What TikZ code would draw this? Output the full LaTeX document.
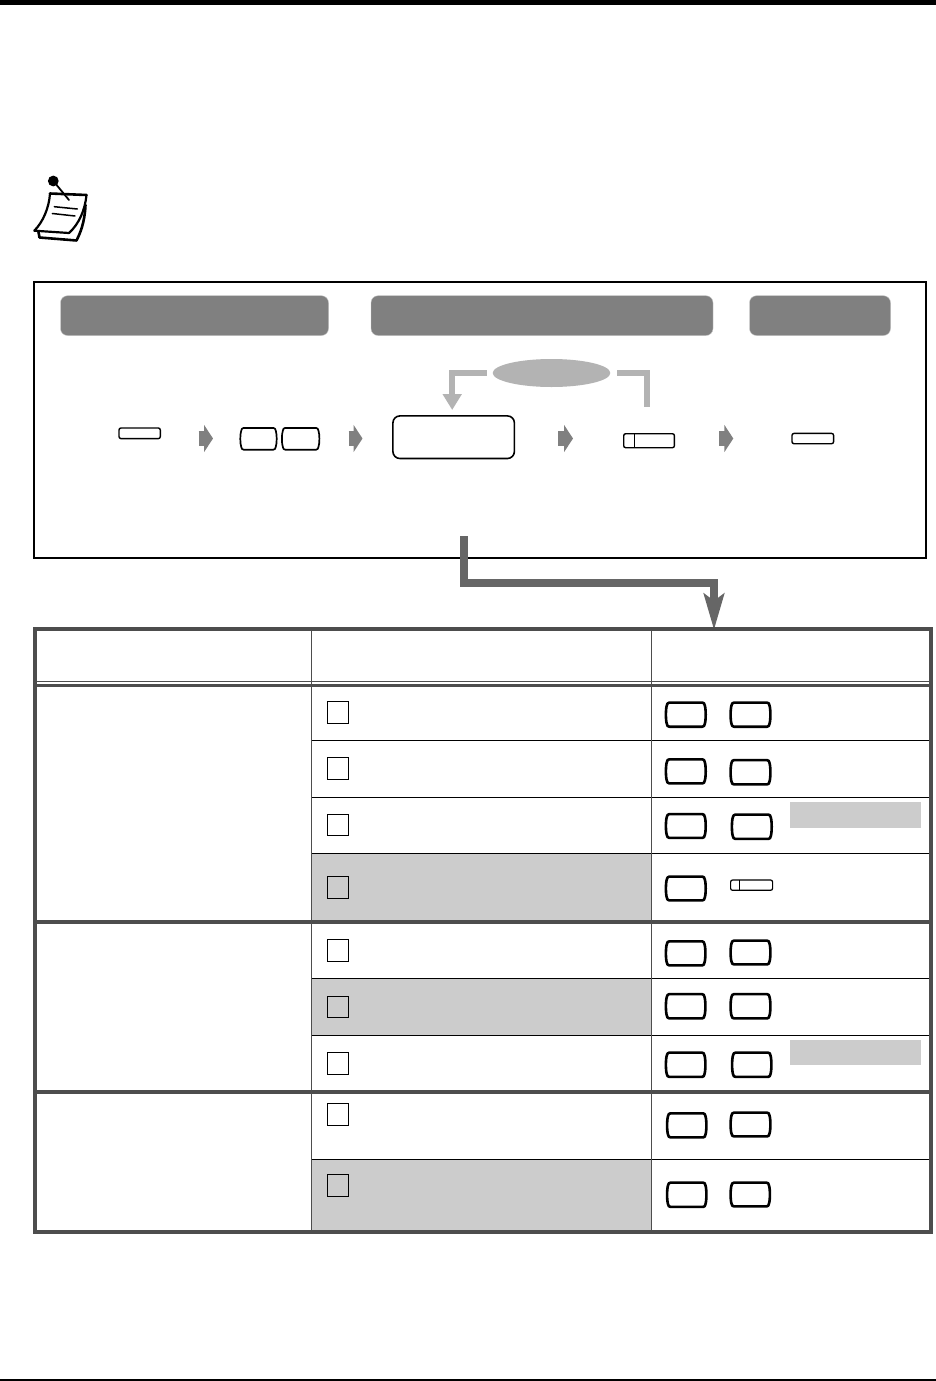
\documentclass[tikz,border=0pt]{standalone}
\usetikzlibrary{arrows.meta,calc,shapes.geometric}
\definecolor{pill}{HTML}{808080}
\definecolor{pilledge}{HTML}{C8C8C8}
\definecolor{loopgray}{HTML}{B3B3B3}
\definecolor{tablegray}{HTML}{4D4D4D}
\definecolor{shade}{HTML}{CCCCCC}
\definecolor{bigarrow}{HTML}{666666}
\tikzset{
  banner/.style={fill=pill,draw=pilledge,line width=.4pt,rounded corners=7pt,outer sep=0pt},
  keyline/.style={draw=black,line width=#1,line join=round},
  keyline/.default=2.6pt,
  slimkey/.style={draw=black,line width=1.4pt,rounded corners=2pt,inner sep=0pt,outer sep=0pt,anchor=north west},
  bigbox/.style={draw=black,line width=1.6pt,rounded corners=7pt,inner sep=0pt,outer sep=0pt,anchor=north west},
  flowarrow/.style={draw=pill,line width=15.3pt,-{Triangle[length=9pt,width=27pt]}},
  looparrow/.style={draw=loopgray,line width=5.8pt,line join=miter},
  deliver/.style={draw=bigarrow,line width=8pt,line join=miter,-{Stealth[length=36pt,width=20pt,inset=7pt]}},
  outerrule/.style={draw=tablegray,line width=4pt},
  thinrule/.style={draw=tablegray,line width=1.3pt},
  rowrule/.style={draw=black,line width=1.2pt},
  checkbox/.style={draw=black,line width=1pt},
  shadecell/.style={fill=shade},
  paperline/.style={draw=black,line width=2.2pt,line cap=round,line join=round},
}
% barrel-sided key: [line width]{name}{x1}{y1}{x2}{y2}
\newcommand{\barrelkey}[6][2.6pt]{%
  \node[inner sep=0pt,outer sep=0pt,minimum width={(#5-#3)*1pt},minimum height={(#6-#4)*1pt}] (#2) at ({(#3+#5)/2},{(#4+#6)/2}) {};
  \draw[keyline=#1]
    ({#3+4},{#4+.6}) -- ({#5-4},{#4+.6})
    .. controls ({#5-2.4},{#4+.6}) and ({#5-1.8},{#4+1.8}) .. ({#5-1.5},{#4+3.5})
    .. controls ({#5-.3},{#4+7}) and ({#5-.3},{#6-7}) .. ({#5-1.5},{#6-3.5})
    .. controls ({#5-1.8},{#6-1.8}) and ({#5-2.4},{#6-.6}) .. ({#5-4},{#6-.6})
    -- ({#3+4},{#6-.6})
    .. controls ({#3+2.4},{#6-.6}) and ({#3+1.8},{#6-1.8}) .. ({#3+1.5},{#6-3.5})
    .. controls ({#3+.3},{#6-7}) and ({#3+.3},{#4+7}) .. ({#3+1.5},{#4+3.5})
    .. controls ({#3+1.8},{#4+1.8}) and ({#3+2.4},{#4+.6}) .. cycle;
}
\begin{document}
\begin{tikzpicture}[x=1pt,y=-1pt]
\useasboundingbox (0,0) rectangle (936,1381);
\fill[white] (0,0) rectangle (936,1381);
% page rules
\fill[black] (0,0) rectangle (936,5);
\fill[black] (0,1379.2) rectangle (936,1381);

% note icon
\fill[black] (53.3,181) circle (5.4);
\draw[paperline,line width=1.8pt] (53.3,181) -- (69,200);
\draw[paperline,line width=2.6pt] (50,193.5) -- (86.5,195);
\draw[paperline] (50,193.5) .. controls (49,208) and (43,222) .. (34.3,230.7)
  -- (69,233) .. controls (79,224) and (85,210) .. (86.5,195);
\draw[paperline,line width=2.6pt] (38.5,232) -- (39.5,237.5) -- (76.5,240.5)
  .. controls (83,228) and (85,216) .. (85.5,205);
\draw[paperline,line width=1.5pt] (54.3,206.7) -- (77.3,209);
\draw[paperline,line width=1.5pt] (52.3,213.5) -- (75,216);

% upper frame
\draw[black,line width=2.4pt] (34,282) rectangle (926,558);
\node[banner,minimum width=268pt,minimum height=39.8pt,inner sep=0pt] (band1) at (194.5,315.6) {};
\node[banner,minimum width=342pt,minimum height=39.8pt,inner sep=0pt] (band2) at (542,315.6) {};
\node[banner,minimum width=141pt,minimum height=39.8pt,inner sep=0pt] (band3) at (820,315.6) {};

% flow row
\coordinate (row) at (0,438.5);
\node[slimkey,minimum width=41.3pt,minimum height=10.6pt] (k1) at (119,428) {};
\barrelkey[1.7pt]{k2a}{239.7}{427.3}{277.3}{450.3}
\barrelkey[1.7pt]{k2b}{281.3}{427.3}{320}{450.3}
\node[bigbox,minimum width=121.5pt,minimum height=42.6pt] (entry) at (392.9,415.9) {};
\node[slimkey,minimum width=50.7pt,minimum height=14pt] (k5) at (623.7,433.7) {};
\draw[black,line width=1pt] ($(k5.north west)+(11,0)$) -- ($(k5.south west)+(11,0)$);
\node[slimkey,minimum width=41.6pt,minimum height=10.3pt] (k6) at (792,433.4) {};
\draw[flowarrow,shorten <=38.4pt,shorten >=26.7pt] (k1.east |- row) -- (k2a.west |- row);
\draw[flowarrow,shorten <=28.7pt,shorten >=30.4pt] (k2b.east |- row) -- (entry.west |- row);
\draw[flowarrow,shorten <=43.9pt,shorten >=50.7pt] (entry.east |- row) -- (k5.west |- row);
\draw[flowarrow,shorten <=44.6pt,shorten >=58.7pt] (k5.east |- row) -- (k6.west |- row);

% repeat loop
\node[ellipse,fill=loopgray,inner sep=0pt,outer sep=0pt,minimum width=117.6pt,minimum height=28pt] (loop) at (551.5,373) {};
\coordinate (loopin) at (452.2,410);
\coordinate (loopout) at (647,406.7);
\draw[looparrow,shorten <=6pt,-{Triangle[length=16pt,width=18.3pt]}] (loop.west) -| (loopin);
\draw[looparrow,shorten <=6.7pt] (loop.east) -| (loopout);

% delivering arrow
\coordinate (src) at (464,536);
\coordinate (bend) at (714,583);
\coordinate (dst) at (714,630);
\draw[deliver] (src) |- (bend) -- (dst);

% shaded cells
\fill[shadecell] (311.5,853.3) rectangle (651.5,920);
\fill[shadecell] (311.5,978.3) rectangle (651.5,1035.3);
\fill[shadecell] (311.5,1159.3) rectangle (651.5,1230);
\fill[shadecell] (790,802) rectangle (921,827.7);
\fill[shadecell] (790,1040) rectangle (921,1065);

% table rules
\foreach \yy in {740.3,797.3,853.3,978.3,1035.3,1159.3}
  \draw[rowrule] (311.5,\yy) -- (931,\yy);
\draw[thinrule] (311.5,629) -- (311.5,1232);
\draw[thinrule] (651.5,629) -- (651.5,1232);
\draw[thinrule] (35,681.3) -- (931,681.3);
\draw[tablegray,line width=3pt] (35,685.5) -- (931,685.5);
\draw[outerrule] (35,921.8) -- (931,921.8);
\draw[outerrule] (35,1092) -- (931,1092);
\draw[outerrule] (35,629) rectangle (931,1232);

% check boxes
\foreach \yy in {701.3,757.5,814,876.3,939.5,996,1052.3,1103.5,1174.3}
  \draw[checkbox] (327.3,\yy) rectangle (348.7,{\yy+21.8});

% keys in the table
\barrelkey{r1a}{665.3}{702}{706.3}{727.3}
\barrelkey{r1b}{730}{702}{771}{727.3}
\barrelkey{r2a}{665.3}{758.7}{706.3}{784}
\barrelkey{r2b}{730}{759.5}{771}{785}
\barrelkey{r3a}{665.3}{813.5}{706.3}{838.5}
\barrelkey{r3b}{731.3}{814}{772.3}{839.5}
\barrelkey{r4a}{665.3}{876}{706.3}{901}
\node[slimkey,line width=1.2pt,minimum width=42pt,minimum height=10.3pt] (r4b) at (730.6,880) {};
\draw[black,line width=.9pt] ($(r4b.north west)+(8.8,0)$) -- ($(r4b.south west)+(8.8,0)$);
\barrelkey{r5a}{665.3}{940.7}{706}{966}
\barrelkey{r5b}{730}{940}{771}{965}
\barrelkey{r6a}{665.3}{993.5}{706}{1019}
\barrelkey{r6b}{730}{993.5}{771}{1019}
\barrelkey{r7a}{665.3}{1052}{706}{1077.5}
\barrelkey{r7b}{731.5}{1052}{772}{1077.5}
\barrelkey{r8a}{666.5}{1112.7}{707}{1138}
\barrelkey{r8b}{730}{1112}{771}{1137}
\barrelkey{r9a}{666.5}{1182}{707}{1207.5}
\barrelkey{r9b}{730}{1182}{770.5}{1207}
\end{tikzpicture}
\end{document}
